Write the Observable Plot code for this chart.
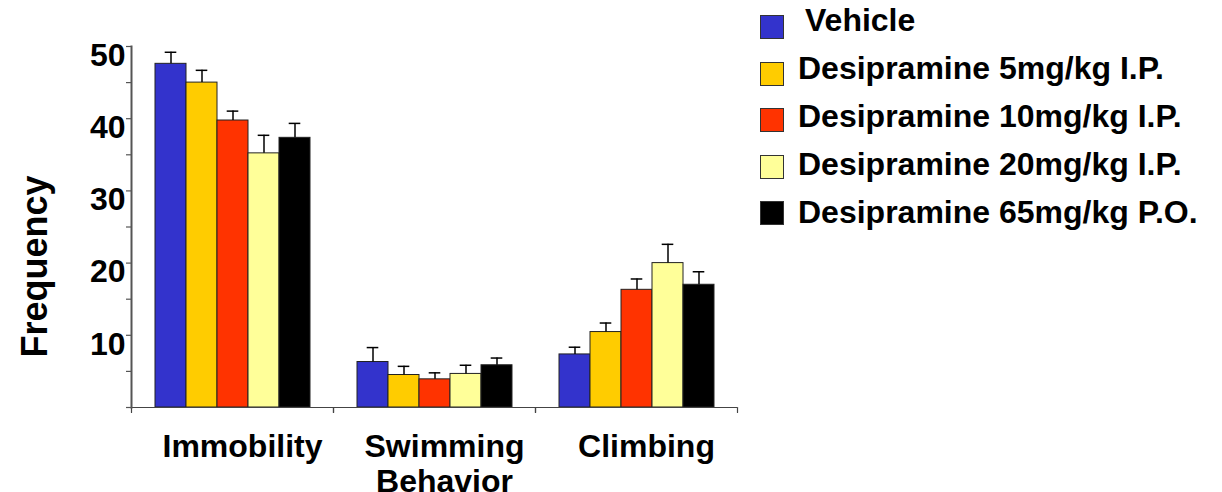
<!DOCTYPE html>
<html>
<head>
<meta charset="utf-8">
<script src="https://cdn.jsdelivr.net/npm/d3@7"></script>
<script src="https://cdn.jsdelivr.net/npm/@observablehq/plot@0.6"></script>
<style>
  html, body { margin: 0; padding: 0; background: white; overflow: hidden; }
  #wrap { position: relative; width: 1222px; height: 492px; }
  #legend { position: absolute; left: 0; top: 0; font-family: "Liberation Sans", Arial, sans-serif; font-weight: bold; font-size: 32px; color: black; }
  .sw { position: absolute; left: 760px; width: 22px; height: 22px; border: 1px solid #333; box-sizing: content-box; }
  .lab { position: absolute; left: 798px; line-height: 32px; white-space: nowrap; }
</style>
</head>
<body>
<div id="wrap"><div id="legend"></div></div>
<script>
const categories = ["Immobility", "Swimming Behavior", "Climbing"];
const series = [
  "Vehicle",
  "Desipramine 5mg/kg I.P.",
  "Desipramine 10mg/kg I.P.",
  "Desipramine 20mg/kg I.P.",
  "Desipramine 65mg/kg P.O."
];
const colors = ["#3333CC", "#FFCC00", "#FF3300", "#FFFF99", "#000000"];

const immobilityMean = [47.6, 45.0, 39.75, 35.2, 37.35];
const immobilityErr  = [1.6, 1.7, 1.3, 2.5, 2.0];
const swimmingMean   = [6.3, 4.5, 3.9, 4.65, 5.85];
const swimmingErr    = [2.0, 1.2, 0.9, 1.2, 1.0];
const climbingMean   = [7.35, 10.45, 16.3, 20.0, 17.0];
const climbingErr    = [1.0, 1.25, 1.5, 2.6, 1.8];

const yTicks = [0, 5, 10, 15, 20, 25, 30, 35, 40, 45, 50];
const yLabel = "Frequency";

const means = [immobilityMean, swimmingMean, climbingMean];
const errs = [immobilityErr, swimmingErr, climbingErr];
const data = categories.flatMap((c, ci) =>
  series.map((s, si) => ({category: c, series: s, value: means[ci][si], err: errs[ci][si]}))
);

const W = 1222, H = 492, ML = 130, MR = 485, MT = 46, MB = 85;
const lineShape = {draw(context, l) { context.moveTo(0, 0); context.lineTo(0, -l); }};

const chart = Plot.plot({
  width: W,
  height: H,
  marginLeft: ML,
  marginRight: MR,
  marginTop: MT,
  marginBottom: MB,
  style: {fontFamily: "'Liberation Sans', Arial, sans-serif", fontWeight: "bold", fontSize: "32px", background: "white", overflow: "visible"},
  fx: {domain: categories, padding: 0, label: null},
  x: {domain: series, paddingInner: 0, paddingOuter: 0.72, axis: null},
  y: {domain: [0, 50]},
  color: {domain: series, range: colors},
  marks: [
    Plot.barY(data, {fx: "category", x: "series", y: "value", fill: "series", stroke: "#222", strokeWidth: 1}),
    Plot.ruleX(data, {fx: "category", x: "series", y1: "value", y2: d => d.value + d.err, stroke: "black", strokeWidth: 1.5}),
    Plot.tickY(data, {fx: "category", x: "series", y: d => d.value + d.err, insetLeft: 9.7, insetRight: 9.7, stroke: "black", strokeWidth: 1.5}),
    Plot.ruleY([0], {stroke: "#444", strokeWidth: 1.2}),
    // category boundary ticks on the x axis
    Plot.vector([0], {frameAnchor: "bottom-left", length: 5, rotate: 180, anchor: "start", stroke: "#444", strokeWidth: 1.2, shape: lineShape}),
    Plot.vector([0], {frameAnchor: "bottom-right", length: 5, rotate: 180, anchor: "start", stroke: "#444", strokeWidth: 1.2, shape: lineShape}),
    // y tick marks (unshifted)
    Plot.axisY(yTicks, {
      tickSize: 5, label: null, stroke: "#555", strokeWidth: 1.2,
      tickFormat: () => ""
    }),
    // y tick labels (shifted down like the reference)
    Plot.axisY(yTicks, {
      tickSize: 0, tickPadding: 6, fontSize: 32, dy: 9, label: null,
      tickFormat: d => (d % 10 === 0 && d > 0) ? String(d) : ""
    }),
    Plot.axisFx({
      anchor: "bottom", tickSize: 0, tickPadding: 25, fontSize: 32, dx: 10, label: null, lineHeight: 1.08,
      tickFormat: d => d.replace(" ", "\n")
    }),
    Plot.text([yLabel], {
      fx: () => categories[0], frameAnchor: "left", textAnchor: "middle", rotate: -90, dx: -96.5, dy: 39.5,
      fontSize: 36, text: d => d, fill: "black"
    }),
    // y-axis line along the left edge of the first facet
    Plot.frame({anchor: "left", facetAnchor: "left", stroke: "#555", strokeWidth: 2})
  ]
});

document.getElementById("wrap").prepend(chart);

const legend = document.getElementById("legend");
series.forEach((s, i) => {
  const sw = document.createElement("div");
  sw.className = "sw";
  sw.style.top = (15 + 46.5 * i) + "px";
  sw.style.background = colors[i];
  legend.appendChild(sw);
  const lab = document.createElement("div");
  lab.className = "lab";
  lab.style.top = (4 + 48 * i) + "px";
  if (i === 0) lab.style.left = "805px";
  lab.textContent = s;
  legend.appendChild(lab);
});
</script>
</body>
</html>
